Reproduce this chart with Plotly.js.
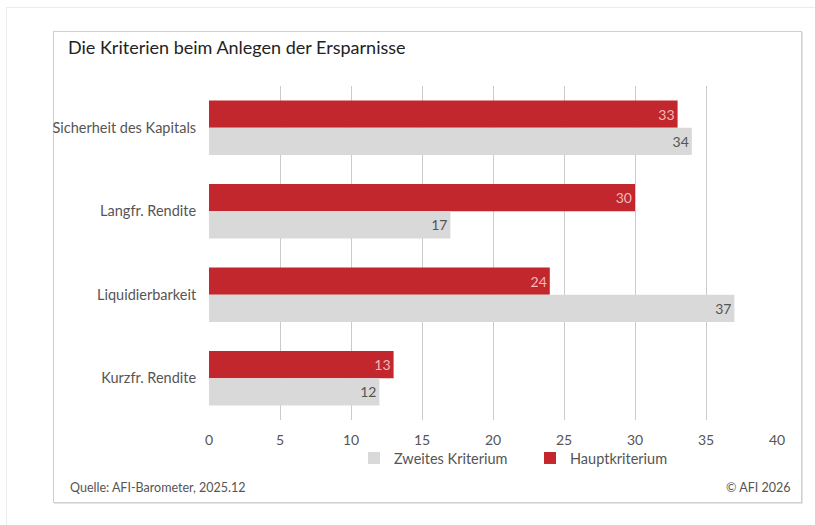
<!DOCTYPE html>
<html>
<head>
<meta charset="utf-8">
<script src="https://cdn.plot.ly/plotly-3.0.1.min.js"></script>
<style>
  html, body { margin: 0; padding: 0; background: #fff; }
  #wrap { position: relative; width: 815px; height: 525px; overflow: hidden; }
  #outer { position: absolute; left: 6px; top: 7px; width: 820px; height: 530px;
           border-left: 1px solid #ececec; border-top: 1px solid #ececec; }
  #frame { position: absolute; left: 53px; top: 31px; width: 747px; height: 470px;
           border: 1px solid #cfcfcf; box-shadow: 1px 1px 0 #e6e6e6; }
  #chart { position: absolute; left: 0; top: 0; width: 815px; height: 525px; }
</style>
</head>
<body>
<div id="wrap">
  <div id="outer"></div>
  <div id="frame"></div>
  <div id="chart"></div>
</div>
<script>
const categories = ["Sicherheit des Kapitals", "Langfr. Rendite", "Liquidierbarkeit", "Kurzfr. Rendite"];
const hauptkriterium = [33, 30, 24, 13];
const zweitesKriterium = [34, 17, 37, 12];
const xTicks = [0, 5, 10, 15, 20, 25, 30, 35, 40];

const FONT = "Lato, 'Noto Sans', sans-serif";

const traces = [
  {
    type: "bar", orientation: "h", name: "Hauptkriterium",
    y: categories, x: hauptkriterium,
    text: hauptkriterium.map(String), textposition: "inside", insidetextanchor: "end",
    textfont: { family: FONT, size: 14, color: "#f4b9b9" },
    marker: { color: "#c1272d" }, hoverinfo: "x+y"
  },
  {
    type: "bar", orientation: "h", name: "Zweites Kriterium",
    y: categories, x: zweitesKriterium,
    text: zweitesKriterium.map(String), textposition: "inside", insidetextanchor: "end",
    textfont: { family: FONT, size: 14, color: "#555555" },
    marker: { color: "#d9d9d9" }, hoverinfo: "x+y"
  }
];

const layout = {
  width: 815, height: 525,
  paper_bgcolor: "rgba(0,0,0,0)", plot_bgcolor: "rgba(0,0,0,0)",
  margin: { l: 209, r: 38, t: 86, b: 105 },
  font: { family: FONT, size: 14, color: "#555" },
  barmode: "group", bargap: 0.35, bargroupgap: 0,
  showlegend: true,
  legend: {
    orientation: "h", traceorder: "reversed",
    x: (354 - 209) / 568, xanchor: "left", y: -0.066, yanchor: "top",
    font: { family: FONT, size: 14.5, color: "#555" },
    bgcolor: "rgba(0,0,0,0)", itemwidth: 30, entrywidth: 131
  },
  title: {
    text: "Die Kriterien beim Anlegen der Ersparnisse",
    font: { family: FONT, size: 18, color: "#222" },
    xref: "container", yref: "container",
    x: 68 / 815, xanchor: "left", y: 1 - 48 / 525, yanchor: "middle"
  },
  xaxis: {
    range: [0, 40], tickvals: xTicks, ticktext: xTicks.map(String),
    showgrid: true, gridcolor: "#cbcbcb", gridwidth: 1,
    zeroline: false, showline: false,
    ticks: "outside", ticklen: 7, tickcolor: "rgba(0,0,0,0)",
    tickfont: { family: FONT, size: 14, color: "#555" }, fixedrange: true
  },
  yaxis: {
    type: "category", autorange: "reversed",
    showgrid: false, zeroline: false, showline: false,
    ticks: "outside", ticklen: 9, tickcolor: "rgba(0,0,0,0)",
    tickfont: { family: FONT, size: 14.5, color: "#555" }, fixedrange: true
  },
  annotations: [
    { text: "Quelle: AFI-Barometer, 2025.12", xref: "paper", yref: "paper",
      x: (68 - 209) / 568, y: (420 - 487) / 334, xanchor: "left", yanchor: "middle",
      showarrow: false, font: { family: FONT, size: 12.5, color: "#555" } },
    { text: "© AFI 2026", xref: "paper", yref: "paper",
      x: (792 - 209) / 568, y: (420 - 487) / 334, xanchor: "right", yanchor: "middle",
      showarrow: false, font: { family: FONT, size: 12.5, color: "#555" } }
  ]
};

Plotly.newPlot("chart", traces, layout, { displayModeBar: false, staticPlot: true });
</script>
</body>
</html>
